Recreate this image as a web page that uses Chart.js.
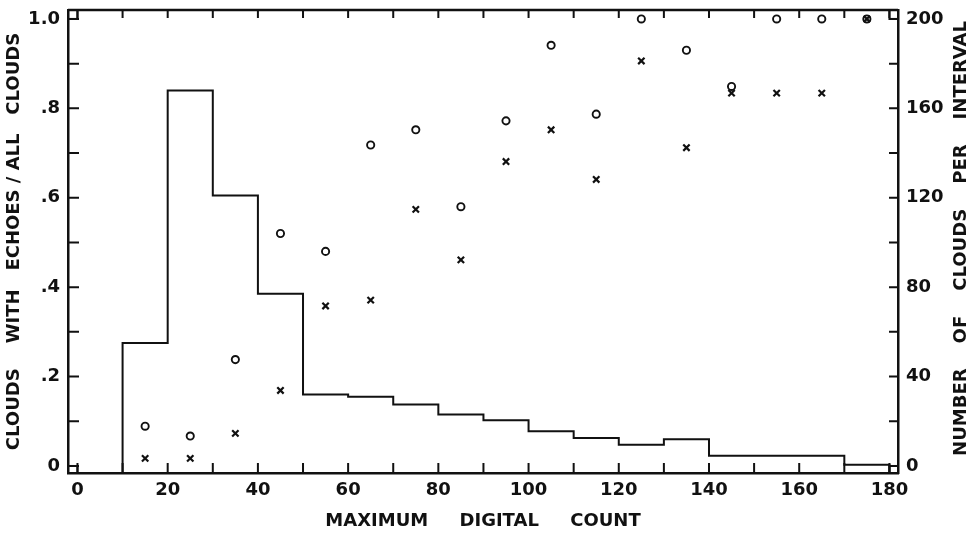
<!DOCTYPE html>
<html><head><meta charset="utf-8">
<script src="https://cdn.jsdelivr.net/npm/chart.js@4/dist/chart.umd.min.js"></script>
<style>html,body{margin:0;padding:0;background:#fff;}#wrap{width:974px;height:534px;}</style>
</head><body><div id="wrap"><canvas id="c" width="974" height="534"></canvas></div>
<script>
// ---- data ----
const binEdges = [10, 20, 30, 40, 50, 60, 70, 80, 90, 100, 110, 120, 130, 140, 170, 180];
const cloudCounts = [55, 168, 121, 77, 32, 31, 27.5, 23, 20.5, 15.5, 12.5, 9.5, 12, 4.6, 0.5];
const binCenters = [15, 25, 35, 45, 55, 65, 75, 85, 95, 105, 115, 125, 135, 145, 155, 165, 175];
const fracCircles = [0.089, 0.067, 0.238, 0.52, 0.48, 0.718, 0.752, 0.58, 0.772, 0.941, 0.787, 1.0, 0.93, 0.849, 1.0, 1.0, 1.0];
const fracCrosses = [0.017, 0.017, 0.073, 0.169, 0.358, 0.371, 0.574, 0.461, 0.681, 0.752, 0.641, 0.906, 0.712, 0.834, 0.834, 0.834, 1.0];
// ---- axes / ticks ----
const xRange = [-2.1, 181.9];
const leftRange = [-0.0157, 1.02];
const rightRange = [-3.14, 204];
const xLabelValues = [0, 20, 40, 60, 80, 100, 120, 140, 160, 180];
const xMarkValues = [0, 10, 20, 30, 40, 50, 60, 70, 80, 90, 100, 110, 120, 130, 140, 150, 160, 170, 180];
const leftLabelValues = [0, 0.2, 0.4, 0.6, 0.8, 1.0];
const leftLabelTexts = ['0', '.2', '.4', '.6', '.8', '1.0'];
const leftMarkValues = [0, 0.1, 0.2, 0.3, 0.4, 0.5, 0.6, 0.7, 0.8, 0.9, 1.0];
const rightLabelValues = [0, 40, 80, 120, 160, 200];
const rightMarkValues = [0, 20, 40, 60, 80, 100, 120, 140, 160, 180, 200];
const xTitle = 'MAXIMUM     DIGITAL     COUNT';
const leftTitle = 'CLOUDS    WITH   ECHOES / ALL   CLOUDS';
const rightTitle = 'NUMBER    OF    CLOUDS    PER    INTERVAL';

const INK = '#111';
const FONT = {family: 'DejaVu Sans', size: 18, weight: 'bold'};

// step outline: rise from the axis at the first edge, close back to the axis at the last edge
const histData = [{x: binEdges[0], y: rightRange[0]}];
cloudCounts.forEach((c, i) => histData.push({x: binEdges[i], y: c}));
histData.push({x: binEdges[binEdges.length - 1], y: rightRange[0]});

const decorations = {
  id: 'decorations',
  afterDatasetsDraw(chart) {
    const {ctx, chartArea: a, scales} = chart;
    const sx = scales.x, sy = scales.y, sy2 = scales.y2;
    ctx.save();
    ctx.strokeStyle = INK;
    ctx.lineWidth = 2.5;
    ctx.beginPath();
    ctx.moveTo(a.left, a.top); ctx.lineTo(a.right, a.top);
    ctx.stroke();
    ctx.lineWidth = 2;
    ctx.beginPath();
    xMarkValues.forEach(v => {
      const px = sx.getPixelForValue(v);
      ctx.moveTo(px, a.bottom); ctx.lineTo(px, a.bottom - 10);
      ctx.moveTo(px, a.top); ctx.lineTo(px, a.top + 8);
    });
    leftMarkValues.forEach(v => {
      const py = sy.getPixelForValue(v);
      ctx.moveTo(a.left, py); ctx.lineTo(a.left + 11, py);
    });
    rightMarkValues.forEach(v => {
      const py = sy2.getPixelForValue(v);
      ctx.moveTo(a.right, py); ctx.lineTo(a.right - 9, py);
    });
    ctx.stroke();
    // small corner squares between the frame and the data origin corners
    const x0 = sx.getPixelForValue(xLabelValues[0]);
    const x1 = sx.getPixelForValue(xLabelValues[xLabelValues.length - 1]);
    const y0 = sy.getPixelForValue(leftLabelValues[0]);
    const y1 = sy.getPixelForValue(leftLabelValues[leftLabelValues.length - 1]);
    ctx.lineWidth = 2;
    ctx.strokeRect(a.left, y0, x0 - a.left, a.bottom - y0);
    ctx.strokeRect(a.left, a.top, x0 - a.left, y1 - a.top);
    ctx.strokeRect(x1, a.top, a.right - x1, y1 - a.top);
    ctx.strokeRect(x1, y0, a.right - x1, a.bottom - y0);
    // right axis title, reading bottom to top
    ctx.fillStyle = INK;
    ctx.font = 'bold 18px "DejaVu Sans"';
    ctx.textAlign = 'center';
    ctx.textBaseline = 'middle';
    ctx.translate(961, (a.top + a.bottom) / 2 - 3);
    ctx.rotate(-Math.PI / 2);
    ctx.fillText(rightTitle, 0, 0);
    ctx.restore();
  }
};

new Chart(document.getElementById('c'), {
  type: 'scatter',
  data: {
    datasets: [
      {
        type: 'line', label: 'clouds per interval', data: histData, yAxisID: 'y2',
        stepped: 'before', borderColor: INK, borderWidth: 2, pointRadius: 0, fill: false
      },
      {
        label: 'circles', data: binCenters.map((x, i) => ({x, y: fracCircles[i]})), yAxisID: 'y',
        pointStyle: 'circle', pointRadius: 3.6, borderColor: INK, borderWidth: 1.9, backgroundColor: 'rgba(0,0,0,0)'
      },
      {
        label: 'crosses', data: binCenters.map((x, i) => ({x, y: fracCrosses[i]})), yAxisID: 'y',
        pointStyle: 'crossRot', pointRadius: 4.5, borderColor: INK, borderWidth: 2.2
      }
    ]
  },
  options: {
    responsive: false, animation: false, devicePixelRatio: 1,
    layout: {padding: {top: 10, bottom: 0, left: 0, right: 0}},
    plugins: {legend: {display: false}, tooltip: {enabled: false}},
    scales: {
      x: {
        type: 'linear', position: 'bottom', min: xRange[0], max: xRange[1],
        afterBuildTicks: s => { s.ticks = xLabelValues.map(v => ({value: v})); },
        ticks: {callback: v => String(v), font: FONT, color: INK, padding: 7, maxRotation: 0, autoSkip: false},
        grid: {display: false, drawTicks: false},
        border: {display: true, color: INK, width: 2.5},
        title: {display: true, text: xTitle, font: FONT, color: INK, padding: {top: 0, bottom: 2}},
        afterFit: s => { s.height = 61; s.paddingLeft = 0; s.paddingRight = 0; }
      },
      y: {
        type: 'linear', position: 'left', min: leftRange[0], max: leftRange[1],
        afterBuildTicks: s => { s.ticks = leftLabelValues.map(v => ({value: v})); },
        ticks: {callback: (v, i) => leftLabelTexts[i], font: FONT, color: INK, padding: 8, autoSkip: false},
        grid: {display: false, drawTicks: false},
        border: {display: true, color: INK, width: 2.5},
        title: {display: true, text: leftTitle, font: FONT, color: INK, padding: {top: 4, bottom: 0}},
        afterFit: s => { s.width = 68; s.paddingTop = 0; s.paddingBottom = 0; }
      },
      y2: {
        type: 'linear', position: 'right', min: rightRange[0], max: rightRange[1],
        afterBuildTicks: s => { s.ticks = rightLabelValues.map(v => ({value: v})); },
        ticks: {callback: v => String(v), font: FONT, color: INK, padding: 8, autoSkip: false},
        grid: {display: false, drawTicks: false},
        border: {display: true, color: INK, width: 2.5},
        title: {display: false},
        afterFit: s => { s.width = 76; s.paddingTop = 0; s.paddingBottom = 0; }
      }
    }
  },
  plugins: [decorations]
});
</script>
</body></html>
